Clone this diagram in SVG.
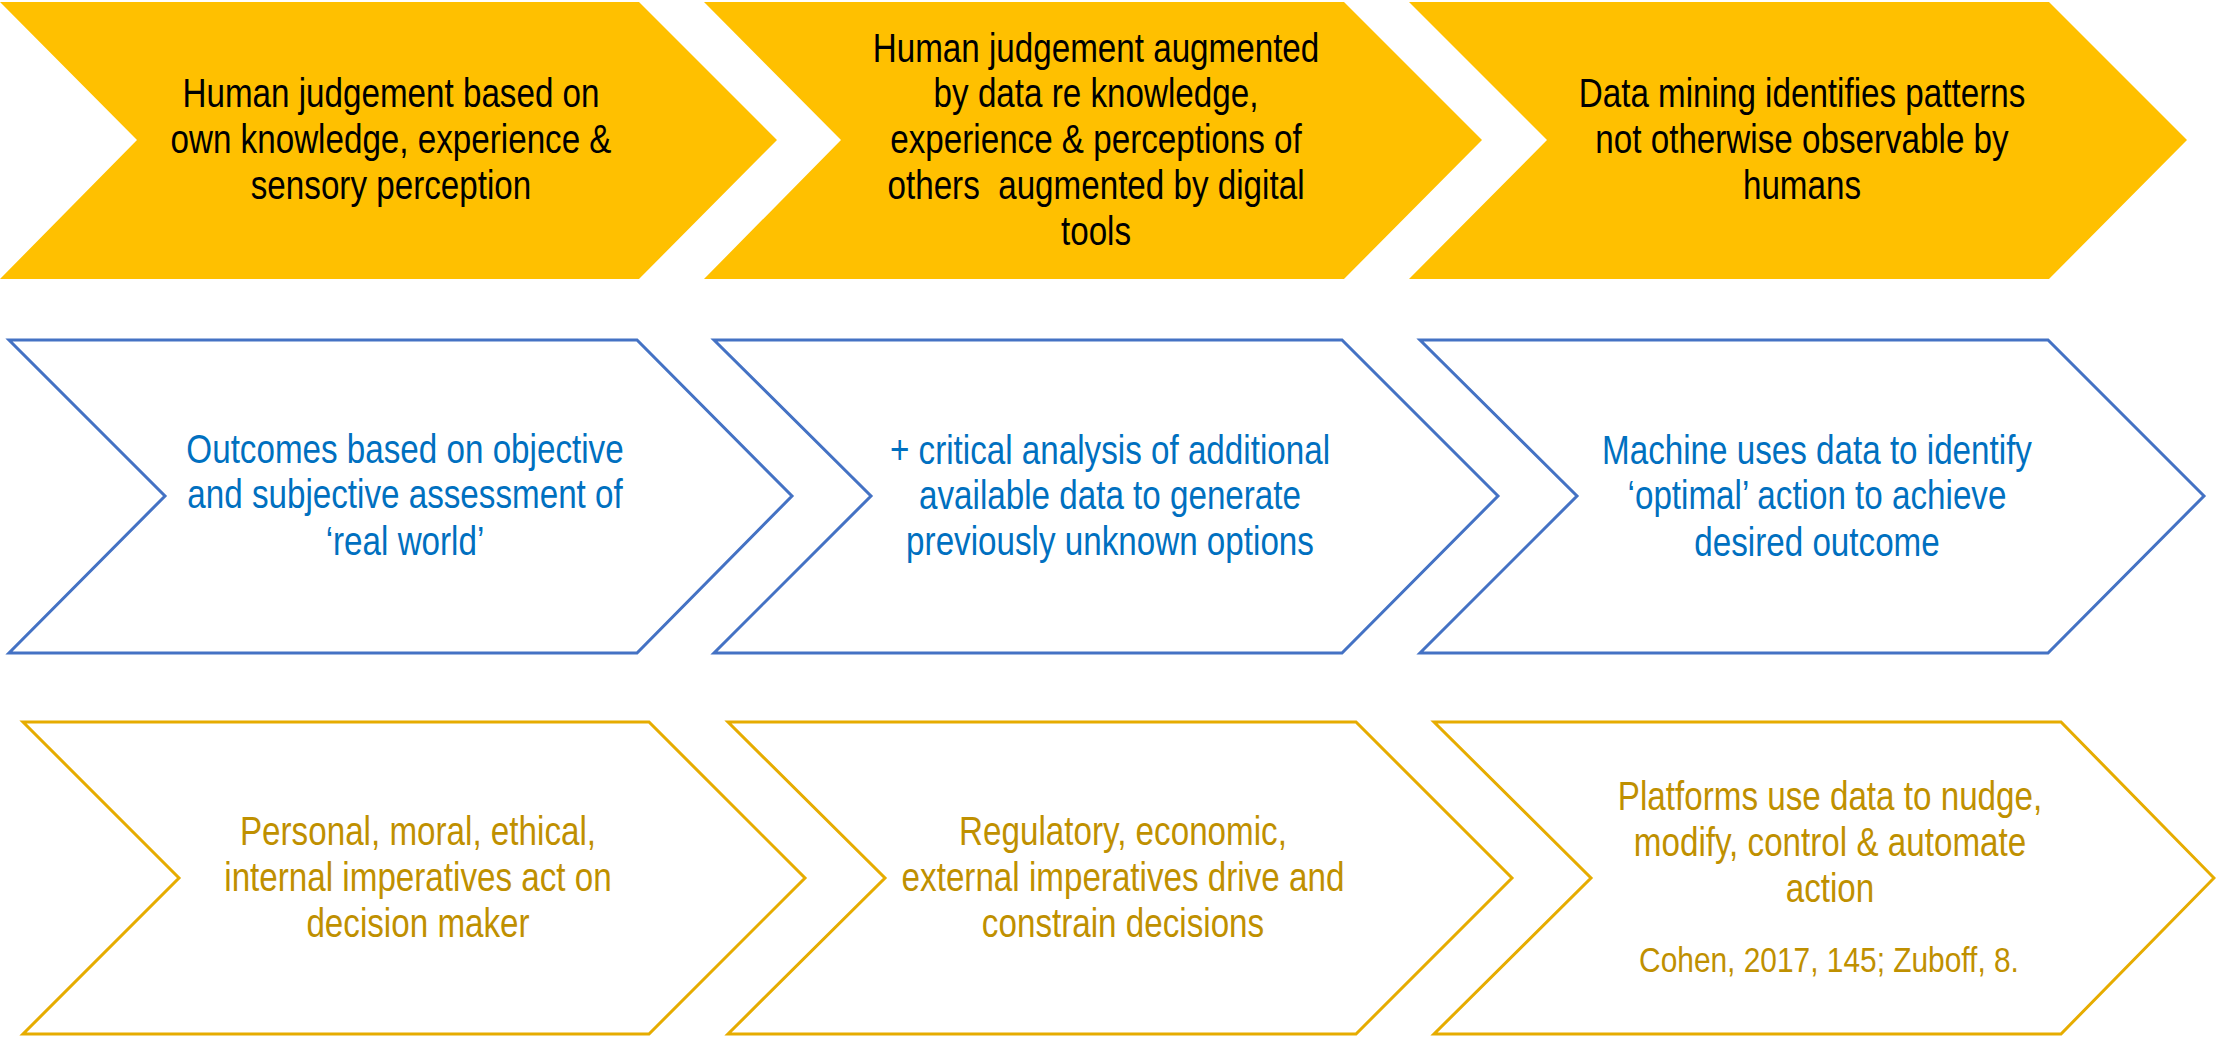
<svg xmlns="http://www.w3.org/2000/svg" width="2216" height="1037" viewBox="0 0 2216 1037">
<style>
text{font-family:"Liberation Sans",Arial,sans-serif;font-size:40px;text-anchor:middle}
.r1{fill:#FFC000;stroke:none}
.r2{fill:#FFFFFF;stroke:#4472C4;stroke-width:3}
.r3{fill:#FFFFFF;stroke:#E6AC00;stroke-width:3}
.t1{fill:#000000}
.t2{fill:#0070C0}
.t3{fill:#BF9000}
.cite{font-size:36px}
</style>
<rect width="2216" height="1037" fill="#FFFFFF"/>
<g id="connectors"></g>
<g id="n1">
<polygon class="r1" points="0,2 639,2 777,140 639,279 0,279 137,140"/>
<text class="t1" transform="translate(391,0) scale(0.83,1)"><tspan x="0" y="107">Human judgement based on</tspan><tspan x="0" y="153">own knowledge, experience &amp;</tspan><tspan x="0" y="199">sensory perception</tspan></text>
</g>
<g id="n2">
<polygon class="r1" points="704,2 1344,2 1482,140 1344,279 704,279 841,140"/>
<text class="t1" xml:space="preserve" transform="translate(1096,0) scale(0.83,1)"><tspan x="0" y="62">Human judgement augmented</tspan><tspan x="0" y="107">by data re knowledge,</tspan><tspan x="0" y="153">experience &amp; perceptions of</tspan><tspan x="0" y="199">others  augmented by digital</tspan><tspan x="0" y="245">tools</tspan></text>
</g>
<g id="n3">
<polygon class="r1" points="1409,2 2049,2 2187,140 2049,279 1409,279 1547,140"/>
<text class="t1" transform="translate(1802,0) scale(0.83,1)"><tspan x="0" y="107">Data mining identifies patterns</tspan><tspan x="0" y="153">not otherwise observable by</tspan><tspan x="0" y="199">humans</tspan></text>
</g>
<g id="n4">
<polygon class="r2" points="9,340 637,340 792,496 637,653 9,653 165,496"/>
<text class="t2" transform="translate(405,0) scale(0.83,1)"><tspan x="0" y="463">Outcomes based on objective</tspan><tspan x="0" y="508">and subjective assessment of</tspan><tspan x="0" y="555">‘real world’</tspan></text>
</g>
<g id="n5">
<polygon class="r2" points="714,340 1342,340 1498,496 1342,653 714,653 871,496"/>
<text class="t2" transform="translate(1110,0) scale(0.83,1)"><tspan x="0" y="464">+ critical analysis of additional</tspan><tspan x="0" y="509">available data to generate</tspan><tspan x="0" y="555">previously unknown options</tspan></text>
</g>
<g id="n6">
<polygon class="r2" points="1420,340 2048,340 2204,496 2048,653 1420,653 1577,496"/>
<text class="t2" transform="translate(1817,0) scale(0.83,1)"><tspan x="0" y="464">Machine uses data to identify</tspan><tspan x="0" y="509">‘optimal’ action to achieve</tspan><tspan x="0" y="556">desired outcome</tspan></text>
</g>
<g id="n7">
<polygon class="r3" points="23,722 649,722 805,878 649,1034 23,1034 179,878"/>
<text class="t3" transform="translate(418,0) scale(0.83,1)"><tspan x="0" y="845">Personal, moral, ethical,</tspan><tspan x="0" y="891">internal imperatives act on</tspan><tspan x="0" y="937">decision maker</tspan></text>
</g>
<g id="n8">
<polygon class="r3" points="728,722 1356,722 1512,878 1356,1034 728,1034 885,878"/>
<text class="t3" transform="translate(1123,0) scale(0.83,1)"><tspan x="0" y="845">Regulatory, economic,</tspan><tspan x="0" y="891">external imperatives drive and</tspan><tspan x="0" y="937">constrain decisions</tspan></text>
</g>
<g id="n9">
<polygon class="r3" points="1434,722 2061,722 2214,878 2061,1034 1434,1034 1591,878"/>
<text class="t3" transform="translate(1830,0) scale(0.83,1)"><tspan x="0" y="810">Platforms use data to nudge,</tspan><tspan x="0" y="856">modify, control &amp; automate</tspan><tspan x="0" y="902">action</tspan></text>
<text class="t3 cite" transform="translate(1829,0) scale(0.83,1)" x="0" y="972">Cohen, 2017, 145; Zuboff, 8.</text>
</g>
</svg>
